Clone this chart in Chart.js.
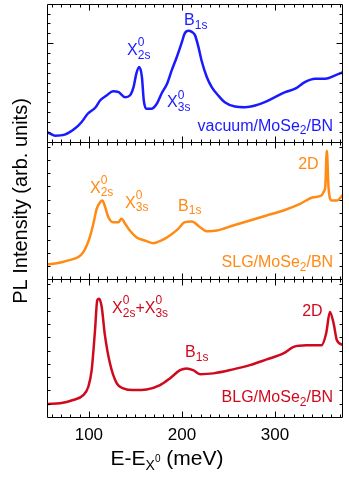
<!DOCTYPE html>
<html>
<head>
<meta charset="utf-8">
<script src="https://cdn.jsdelivr.net/npm/chart.js@4.4.0/dist/chart.umd.min.js"></script>
<style>
  html, body { margin: 0; padding: 0; background: #fff; }
  #wrap { width: 349px; height: 477px; }
</style>
</head>
<body>
<div id="wrap"><canvas id="c" width="349" height="477"></canvas></div>
<script>
// PL spectra of MoSe2 on three substrates

// top panel: vacuum/MoSe2/BN
const energyVac = [55.7, 63.6, 74, 85, 92, 99, 107, 112, 119, 126, 132, 139, 144, 148, 151, 154, 157, 159, 162, 167,
  173, 178, 184, 189, 194.5, 200, 203, 207, 210.6, 214, 217.7, 221, 226.7, 232, 239, 246, 257, 268, 278.7, 289,
  300, 311, 321.7, 332, 343, 354, 364.7, 373.6];
const intensityVac = [0.95, 0.61, 0.71, 1.33, 1.97, 2.86, 3.47, 4.18, 4.69, 5.13, 5.03, 4.52, 4.69, 5.54, 6.91, 7.58, 6.56, 4.18, 3.34, 3.34,
  3.85, 4.87, 5.89, 7.24, 8.60, 10.13, 10.99, 11.26, 11.15, 10.82, 9.62, 8.27, 6.56, 5.54, 4.69, 4.01, 3.57, 3.50, 3.67, 4.01,
  4.52, 5.03, 5.38, 6.05, 6.40, 6.40, 6.73, 7.07];

// middle panel: SLG/MoSe2/BN
const energySLG = [55.7, 67, 78, 88.7, 94, 97.7, 101, 104.8, 108.4, 112, 114.5, 117, 121, 126, 131.7, 135, 139, 144, 151, 160,
  169, 178, 187, 196, 203, 210.6, 219.5, 226.7, 237.5, 255, 273, 291, 309, 327, 341, 350, 353, 354, 355.7, 357.5,
  361, 366.5, 373.6];
const intensitySLG = [1.13, 1.23, 1.43, 1.68, 2.05, 2.56, 3.18, 4.19, 5.32, 5.81, 5.94, 5.56, 4.68, 4.31, 4.31, 4.56, 4.19, 3.68, 3.18, 2.93,
  2.73, 2.93, 3.31, 3.81, 4.31, 4.36, 3.93, 3.63, 3.68, 4.06, 4.44, 4.81, 5.19, 5.69, 6.19, 6.32, 6.69, 6.94, 9.70, 6.94,
  5.94, 5.94, 6.44];

// bottom panel: BLG/MoSe2/BN
const energyBLG = [56, 69, 83, 94, 99.4, 103, 106.6, 109, 111, 113.8, 117, 122.7, 130, 137, 147.8, 162, 176.5, 187, 198, 205,
  212, 219.5, 233.8, 255, 273, 291, 309, 320, 334, 350, 355, 359, 363, 366.5, 373.6];
const intensityBLG = [0.98, 1.03, 1.28, 1.65, 2.28, 3.53, 6.54, 8.80, 8.92, 8.29, 6.29, 4.03, 2.53, 2.16, 2.03, 2.08, 2.41, 2.91, 3.53, 3.66,
  3.53, 3.23, 3.29, 3.59, 3.91, 4.34, 4.79, 5.29, 5.41, 5.41, 6.32, 7.92, 7.05, 5.79, 5.41];

const xTicks = [100, 200, 300];

const BLUE = '#1a1aff';
const ORANGE = '#ff8a14';
const RED = '#cf0a1e';
const FONT = '"Liberation Sans", Arial, sans-serif';

function pts(xs, ys) {
  return xs.map((x, i) => ({x: x, y: ys[i]}));
}

// peak labels: [panel axis, E, value, parts, colour, align]
const notes = [
  ['yT', 202.3, 11.84, ['B', {sub: '1s'}], BLUE],
  ['yT', 141, 8.78, ['X', {sup: '0', sub: '2s'}], BLUE],
  ['yT', 184, 3.47, ['X', {sup: '0', sub: '3s'}], BLUE],
  ['yT', 362.5, 1.12, ['vacuum/MoSe', {sub: '2'}, '/BN'], BLUE, 'right'],
  ['yM', 101.2, 6.54, ['X', {sup: '0', sub: '2s'}], ORANGE],
  ['yM', 138.9, 5.41, ['X', {sup: '0', sub: '3s'}], ORANGE],
  ['yM', 195.9, 5.19, ['B', {sub: '1s'}], ORANGE],
  ['yM', 324.9, 8.35, ['2D'], ORANGE],
  ['yM', 362.5, 0.9, ['SLG/MoSe', {sub: '2'}, '/BN'], ORANGE, 'right'],
  ['yB', 124.9, 7.82, ['X', {sup: '0', sub: '2s'}, '+X', {sup: '0', sub: '3s'}], RED],
  ['yB', 203.4, 4.51, ['B', {sub: '1s'}], RED],
  ['yB', 329.2, 7.59, ['2D'], RED],
  ['yB', 362.5, 1.13, ['BLG/MoSe', {sub: '2'}, '/BN'], RED, 'right']
];

function richWidth(ctx, parts, fs) {
  let w = 0;
  parts.forEach(p => {
    if (typeof p === 'string') {
      ctx.font = fs + 'px ' + FONT;
      w += ctx.measureText(p).width;
    } else {
      ctx.font = Math.round(fs * 0.72) + 'px ' + FONT;
      w += Math.max(p.sup ? ctx.measureText(p.sup).width : 0, p.sub ? ctx.measureText(p.sub).width : 0);
    }
  });
  return w;
}

function drawRich(ctx, x, y, parts, fs, align) {
  let cx = align === 'right' ? x - richWidth(ctx, parts, fs) : x;
  ctx.textAlign = 'left';
  ctx.textBaseline = 'alphabetic';
  parts.forEach(p => {
    if (typeof p === 'string') {
      ctx.font = fs + 'px ' + FONT;
      ctx.fillText(p, cx, y);
      cx += ctx.measureText(p).width;
    } else {
      ctx.font = Math.round(fs * 0.72) + 'px ' + FONT;
      let w = 0;
      if (p.sup) { ctx.fillText(p.sup, cx, y - fs * 0.55); w = ctx.measureText(p.sup).width; }
      if (p.sub) { ctx.fillText(p.sub, cx, y + fs * 0.22); w = Math.max(w, ctx.measureText(p.sub).width); }
      cx += w;
    }
  });
}

// frames, inward ticks, labels and axis titles
const decor = {
  id: 'decor',
  afterDraw(chart) {
    const ctx = chart.ctx;
    const xs = chart.scales.x;
    ctx.save();
    ctx.strokeStyle = '#000';
    ctx.lineWidth = 1;
    ['yT', 'yM', 'yB'].forEach(id => {
      const ys = chart.scales[id];
      const top = Math.round(ys.top) + 0.5, bot = Math.round(ys.bottom) + 0.5;
      const l = Math.round(xs.left) + 0.5, r = Math.round(xs.right) + 0.5;
      ctx.beginPath();
      ctx.rect(l, top, r - l, bot - top);
      // x ticks every 10 meV, top and bottom
      for (let e = 60; e < xs.max; e += 10) {
        const px = Math.round(xs.getPixelForValue(e)) + 0.5;
        const len = e % 100 === 0 ? 6 : 3;
        ctx.moveTo(px, top); ctx.lineTo(px, top + len);
        ctx.moveTo(px, bot); ctx.lineTo(px, bot - len);
      }
      // y ticks, left and right
      for (let v = 1; v < ys.max; v += 1) {
        const py = Math.round(ys.getPixelForValue(v)) + 0.5;
        const len = (id === 'yT' && v === 10) ? 6 : 3;
        ctx.moveTo(l, py); ctx.lineTo(l + len, py);
        ctx.moveTo(r, py); ctx.lineTo(r - len, py);
      }
      ctx.stroke();
    });

    notes.forEach(n => {
      const ys = chart.scales[n[0]];
      ctx.fillStyle = n[4];
      drawRich(ctx, xs.getPixelForValue(n[1]), ys.getPixelForValue(n[2]), n[3], 16, n[5]);
    });

    // x title: E-E_{X^0} (meV)
    ctx.fillStyle = '#000';
    const fs = 21;
    ctx.font = fs + 'px ' + FONT;
    const w1 = ctx.measureText('E-E').width;
    ctx.font = '14px ' + FONT;
    const wX = ctx.measureText('X').width;
    ctx.font = '10px ' + FONT;
    const w0 = ctx.measureText('0').width;
    ctx.font = fs + 'px ' + FONT;
    const w2 = ctx.measureText(' (meV)').width;
    let tx = 167 - (w1 + wX + w0 + w2) / 2;
    const ty = 465;
    ctx.textAlign = 'left';
    ctx.textBaseline = 'alphabetic';
    ctx.fillText('E-E', tx, ty); tx += w1;
    ctx.font = '14px ' + FONT;
    ctx.fillText('X', tx, ty + 5); tx += wX;
    ctx.font = '10px ' + FONT;
    ctx.fillText('0', tx, ty - 3); tx += w0;
    ctx.font = fs + 'px ' + FONT;
    ctx.fillText(' (meV)', tx, ty);

    // y title
    ctx.font = '20px ' + FONT;
    ctx.translate(27, 201);
    ctx.rotate(-Math.PI / 2);
    ctx.textAlign = 'center';
    ctx.fillText('PL Intensity (arb. units)', 0, 0);
    ctx.restore();
  }
};

function panelAxis(max) {
  return {
    type: 'linear', position: 'left', stack: 'panels', stackWeight: 1,
    min: 0, max: max,
    ticks: {display: false},
    grid: {display: false, drawTicks: false},
    border: {display: false}
  };
}

const line = (data, color, axis) => ({
  data: data, yAxisID: axis, borderColor: color, borderWidth: 2.5,
  pointRadius: 0, cubicInterpolationMode: 'monotone', fill: false
});

new Chart(document.getElementById('c'), {
  type: 'line',
  data: {
    datasets: [
      line(pts(energyVac, intensityVac), BLUE, 'yT'),
      line(pts(energySLG, intensitySLG), ORANGE, 'yM'),
      line(pts(energyBLG, intensityBLG), RED, 'yB')
    ]
  },
  options: {
    responsive: false,
    animation: false,
    devicePixelRatio: 1,
    layout: {padding: {left: 47, right: 7, top: 4, bottom: 0}},
    plugins: {legend: {display: false}, tooltip: {enabled: false}},
    scales: {
      x: {
        type: 'linear', position: 'bottom', min: 55, max: 372,
        afterBuildTicks: s => { s.ticks = xTicks.map(v => ({value: v})); },
        afterFit: s => { s.height = 60; },
        ticks: {color: '#000', font: {family: FONT, size: 17}, padding: 8, maxRotation: 0},
        grid: {display: false, drawTicks: false},
        border: {display: false}
      },
      yB: panelAxis(10.38),
      yM: panelAxis(10.38),
      yT: panelAxis(13.98)
    }
  },
  plugins: [decor]
});
</script>
</body>
</html>
